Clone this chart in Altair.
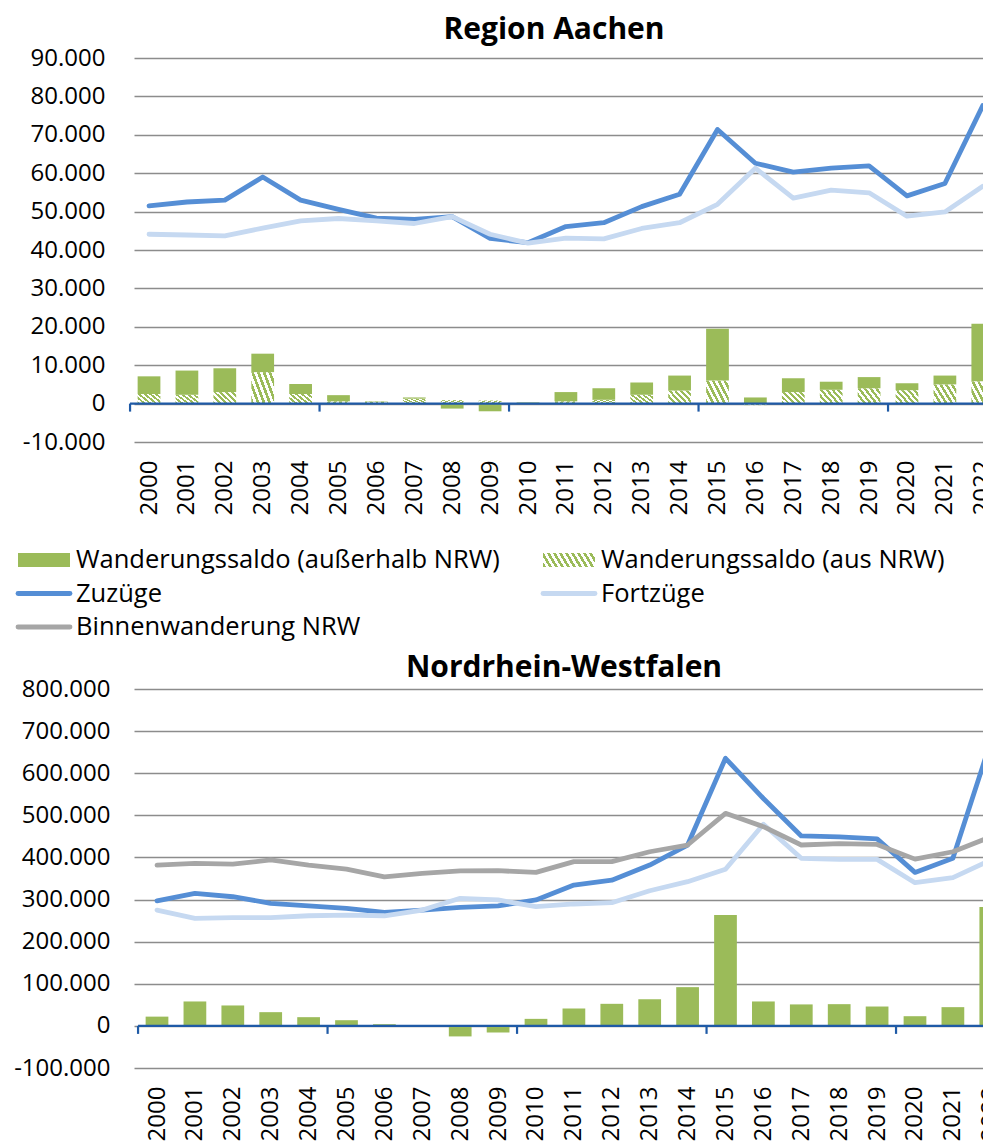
import altair as alt
import pandas as pd

# ---------------- data ----------------
years = list(range(2000, 2023))

aachen_zuzuege = [51500, 52500, 53000, 59000, 53000, 50600, 48300, 48000, 48700, 43000, 41900,
                  46100, 47100, 51300, 54500, 71400, 62600, 60300, 61300, 61900, 54100, 57300, 77600]
aachen_fortzuege = [44100, 43900, 43700, 45700, 47600, 48200, 47600, 46900, 48700, 44100, 41800,
                    43100, 42900, 45600, 47100, 51900, 61300, 53500, 55600, 54900, 48800, 49900, 56600]
aachen_saldo_aus_nrw = [2500, 2300, 3000, 8200, 2500, 600, 500, 1300, 900, 800, 0,
                        600, 1000, 2300, 3400, 6000, -400, 3000, 3600, 4000, 3500, 5000, 5800]
aachen_saldo_ausserhalb = [4600, 6300, 6200, 4800, 2600, 1600, 100, 300, -1300, -2000, 300,
                           2400, 3000, 3200, 3900, 13500, 1600, 3600, 2100, 2900, 1800, 2300, 15000]

nrw_zuzuege = [297000, 314500, 306700, 291000, 285000, 279000, 269600, 275000, 281500, 285000, 299000,
               334500, 346000, 382000, 429500, 635500, 540000, 451000, 449000, 444000, 364500, 398000, 675000]
nrw_fortzuege = [275000, 255500, 257000, 257000, 261500, 263000, 261500, 275000, 303000, 299000, 283000,
                 289500, 292500, 321000, 342500, 371800, 479000, 398000, 395500, 395500, 340000, 352000, 394000]
nrw_binnen = [382000, 386000, 384000, 394000, 382000, 372500, 354000, 362000, 368000, 368500, 364500,
              390000, 390000, 413500, 429500, 504700, 473000, 429500, 433000, 431000, 396000, 413500, 449000]
nrw_saldo_ausserhalb = [22000, 58000, 48500, 32600, 20700, 13500, 4000, 500, -25000, -15700, 16700,
                        41300, 52400, 63500, 92000, 263500, 58000, 51000, 51600, 46000, 23000, 44500, 282500]

axis_tick_years = [1999.5, 2004.5, 2009.5, 2014.5, 2019.5]

legend_labels = ["Wanderungssaldo (außerhalb NRW)", "Wanderungssaldo (aus NRW)",
                 "Zuzüge", "Fortzüge", "Binnenwanderung NRW"]
legend_kind = ["solid", "hatch", "line", "line", "line"]
legend_col = [0, 1, 0, 1, 0]
legend_row = [0, 0, 1, 1, 2]

# ---------------- styles ----------------
FONT = "Open Sans"
GREEN = "#9bbb59"
BLUE = "#558ed5"
LIGHT = "#c6d9f1"
GRAY = "#a6a6a6"
AXIS_BLUE = "#1f5aa6"
GRID = "#8c8c8c"
W = 858


def stripes(n):
    st = []
    for i in range(n):
        a, m, b = i / n, (i + 0.5) / n, (i + 1) / n
        st += [{"offset": a, "color": GREEN}, {"offset": m, "color": GREEN},
               {"offset": m, "color": "#ffffff"}, {"offset": b, "color": "#ffffff"}]
    return st


HATCH = {"gradient": "linear", "x1": 0, "y1": 1, "x2": 1.197, "y2": 0.378, "stops": stripes(6)}
HATCH_LEG = {"gradient": "linear", "x1": 0, "y1": 1, "x2": 1.13, "y2": 0.82, "stops": stripes(10)}

LINE_COLORS = {"Zuzüge": BLUE, "Fortzüge": LIGHT, "Binnenwanderung NRW": GRAY}

y_label_expr = "replace(replace(format(datum.value, ','), ',', '.'), '\u2212', '-')"


def panel(title, dx_title, title_offset, x_domain, y_domain, y_step, label_pad, height,
          saldo_aus, saldo_ausserhalb, lines):
    xs = alt.Scale(domain=x_domain, nice=False, zero=False)
    ys = alt.Scale(domain=y_domain, nice=False, zero=False)
    x_axis = alt.Axis(values=years, labelAngle=270, format="d", domain=False, ticks=False,
                      grid=False, labelFont=FONT, labelFontSize=24, labelColor="#000000",
                      labelPadding=18, labelOverlap=False, labelFlush=False, title=None)
    y_axis = alt.Axis(values=list(range(y_domain[0], y_domain[1] + 1, y_step)), grid=True,
                      gridColor=GRID, gridWidth=1.6, domain=False, ticks=False, tickSize=0,
                      labelFont=FONT, labelFontSize=24, labelColor="#000000",
                      labelPadding=label_pad, labelExpr=y_label_expr, title=None)

    def X(f):
        return alt.X(f, scale=xs, axis=x_axis)

    def Y(f):
        return alt.Y(f, scale=ys, axis=y_axis)

    rows = []
    for i, yr in enumerate(years):
        if saldo_aus is not None:
            rows.append({"year": yr, "series": "aus", "ord": 0, "value": saldo_aus[i]})
        rows.append({"year": yr, "series": "ausserhalb", "ord": 1, "value": saldo_ausserhalb[i]})
    bar_df = pd.DataFrame(rows)

    base_bar = (alt.Chart(bar_df)
                .transform_stack(stack="value", groupby=["year"], as_=["v0", "v1"],
                                 sort=[alt.SortField("ord", order="ascending")], offset="zero")
                .transform_calculate(x0="datum.year - 0.3", x1="datum.year + 0.3"))
    enc = dict(x=X("x0:Q"), x2="x1:Q", y=Y("v0:Q"), y2="v1:Q")
    layers = []
    if saldo_aus is not None:
        layers.append(base_bar.transform_filter("datum.series == 'aus'")
                      .mark_bar(color=HATCH, clip=True).encode(**enc))
    layers.append(base_bar.transform_filter("datum.series == 'ausserhalb'")
                  .mark_bar(color=GREEN, clip=True).encode(**enc))

    base_df = pd.DataFrame({"x0": [1999.5], "x1": [x_domain[1]], "y": [0]})
    layers.append(alt.Chart(base_df).mark_rule(color=AXIS_BLUE, strokeWidth=2.2, clip=False)
                  .encode(x=X("x0:Q"), x2="x1:Q", y=Y("y:Q")))
    tick_df = pd.DataFrame({"x": axis_tick_years, "y": [0] * len(axis_tick_years)})
    layers.append(alt.Chart(tick_df).mark_rule(color=AXIS_BLUE, strokeWidth=2.2, clip=False,
                                               y2Offset=8)
                  .encode(x=X("x:Q"), y=Y("y:Q"), y2="y:Q"))

    for name, vals in lines:
        ldf = pd.DataFrame({"year": years, "value": vals})
        layers.append(alt.Chart(ldf).mark_line(color=LINE_COLORS[name], strokeWidth=4.8,
                                               strokeJoin="round", strokeCap="round", clip=True)
                      .encode(x=X("year:Q"), y=Y("value:Q")))

    return alt.layer(*layers).properties(
        width=W, height=height,
        title=alt.TitleParams(title, font=FONT, fontSize=30, fontWeight="bold", color="#000000",
                              anchor="middle", dx=dx_title, offset=title_offset, frame="group"))


top = panel("Region Aachen", -9, 1, [1999.604, 2022.243], [-10000, 90000], 10000, 29, 384,
            aachen_saldo_aus_nrw, aachen_saldo_ausserhalb,
            [("Zuzüge", aachen_zuzuege), ("Fortzüge", aachen_fortzuege)])

bottom = panel("Nordrhein-Westfalen", 1, -6, [1999.393, 2022.032], [-100000, 800000], 100000, 24, 379,
               None, nrw_saldo_ausserhalb,
               [("Zuzüge", nrw_zuzuege), ("Fortzüge", nrw_fortzuege),
                ("Binnenwanderung NRW", nrw_binnen)])

# ---------------- legend ----------------
leg_df = pd.DataFrame({"label": legend_labels, "kind": legend_kind,
                       "col": legend_col, "row": legend_row})
lx = alt.Scale(domain=[0, 1], range=[-116, 409])
ly = alt.Scale(domain=[0, 2], range=[45, 112])
lbase = alt.Chart(leg_df)
lenc = dict(x=alt.X("col:Q", scale=lx, axis=None), x2="col:Q",
            y=alt.Y("row:Q", scale=ly, axis=None), y2="row:Q")
leg_solid = lbase.transform_filter("datum.kind == 'solid'").mark_rect(
    color=GREEN, x2Offset=52, yOffset=-7, y2Offset=7).encode(**lenc)
leg_hatch = lbase.transform_filter("datum.kind == 'hatch'").mark_rect(
    color=HATCH_LEG, x2Offset=52, yOffset=-7, y2Offset=7).encode(**lenc)
leg_line = lbase.transform_filter("datum.kind == 'line'").mark_rule(
    strokeWidth=4.8, strokeCap="round", x2Offset=52).encode(
    x=alt.X("col:Q", scale=lx, axis=None), x2="col:Q",
    y=alt.Y("row:Q", scale=ly, axis=None),
    color=alt.Color("label:N", scale=alt.Scale(domain=list(LINE_COLORS.keys()),
                                               range=list(LINE_COLORS.values())), legend=None))
leg_text = lbase.mark_text(align="left", baseline="middle", dx=58, font=FONT, fontSize=25.5,
                           color="#000000").encode(
    x=alt.X("col:Q", scale=lx, axis=None), y=alt.Y("row:Q", scale=ly, axis=None), text="label:N")
legend = alt.layer(leg_solid, leg_hatch, leg_line, leg_text).properties(width=W, height=138)

chart = (alt.vconcat(top, legend, bottom, spacing=0)
         .resolve_scale(color="independent")
         .properties(padding={"left": 5, "top": 7, "right": -20, "bottom": 0})
         .configure_view(stroke=None))

chart.save("out.html", embed_options={"renderer": "svg", "actions": False})
